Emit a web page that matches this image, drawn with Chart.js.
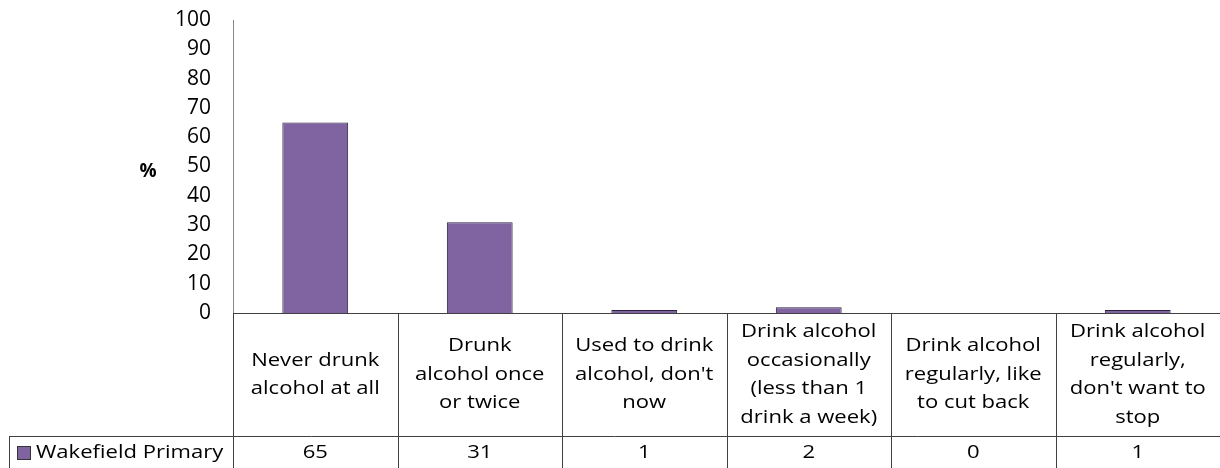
<!DOCTYPE html>
<html>
<head>
<meta charset="utf-8">
<script src="https://cdn.jsdelivr.net/npm/chart.js@4.4.0/dist/chart.umd.min.js"></script>
<style>
  html, body { margin: 0; padding: 0; background: #fff; }
</style>
</head>
<body>
<canvas id="chart" width="1220" height="468"></canvas>
<script>
// --- data ---
const categories = [
  ['Never drunk', 'alcohol at all'],
  ['Drunk', 'alcohol once', 'or twice'],
  ['Used to drink', "alcohol, don't", 'now'],
  ['Drink alcohol', 'occasionally', '(less than 1', 'drink a week)'],
  ['Drink alcohol', 'regularly, like', 'to cut back'],
  ['Drink alcohol', 'regularly,', "don't want to", 'stop']
];
const seriesName = 'Wakefield Primary';
const values = [65, 31, 1, 2, 0, 1];
const yMin = 0, yMax = 100, yStep = 10;
const yTitle = '%';

const FONT = '"Open Sans", Lato, sans-serif';
const BAR = '#8064A2';
const LINE = '#404040';
const STRETCH = 1.16; // reference text is wide

function wideText(ctx, t, x, y) {
  ctx.save();
  ctx.translate(x, y);
  ctx.scale(STRETCH, 1);
  ctx.fillText(t, 0, 0);
  ctx.restore();
}

// data table under the plot (category header row + value row)
const tablePlugin = {
  id: 'dataTable',
  afterDraw(chart) {
    const ctx = chart.ctx, a = chart.chartArea, xs = chart.scales.x, ys = chart.scales.y;
    const step = (a.right - a.left) / categories.length;
    const headTop = a.bottom, headBot = a.bottom + 123, rowBot = chart.height + 2;
    const legendLeft = 9;

    ctx.save();
    ctx.strokeStyle = LINE;
    ctx.lineWidth = 1;
    ctx.beginPath();
    ctx.moveTo(legendLeft, headBot + 0.5); ctx.lineTo(a.right, headBot + 0.5);
    ctx.moveTo(legendLeft + 0.5, headBot); ctx.lineTo(legendLeft + 0.5, rowBot);
    for (let i = 0; i < categories.length; i++) {
      const xx = Math.round(xs.getPixelForValue(i) - step / 2) + 0.5;
      ctx.moveTo(xx, headTop); ctx.lineTo(xx, rowBot);
    }
    ctx.stroke();

    ctx.fillStyle = '#000';
    ctx.font = '19px ' + FONT;
    ctx.textAlign = 'center';
    ctx.textBaseline = 'middle';
    const lh = 28.5;
    const ry = (headBot + chart.height) / 2 + 1;
    categories.forEach((lines, i) => {
      const cx = xs.getPixelForValue(i);
      const cy = (headTop + headBot) / 2;
      const y0 = cy - (lines.length - 1) * lh / 2;
      lines.forEach((t, j) => wideText(ctx, t, cx, y0 + j * lh));
      wideText(ctx, String(values[i]), cx, ry);
    });

    // legend key + series name
    ctx.fillStyle = BAR;
    ctx.fillRect(17, ry - 7, 14, 14);
    ctx.strokeStyle = '#333';
    ctx.strokeRect(17.5, ry - 6.5, 13, 13);
    ctx.fillStyle = '#000';
    ctx.textAlign = 'left';
    wideText(ctx, seriesName, 36, ry);

    // axis title, horizontal
    ctx.font = 'bold 19px ' + FONT;
    ctx.textAlign = 'center';
    ctx.fillText(yTitle, a.left - 85, (ys.top + ys.bottom) / 2 + 5);
    ctx.restore();
  }
};

new Chart(document.getElementById('chart'), {
  type: 'bar',
  data: {
    labels: categories,
    datasets: [{
      label: seriesName,
      data: values,
      backgroundColor: BAR,
      borderColor: '#2a2238',
      borderWidth: 1,
      barPercentage: 0.4,
      categoryPercentage: 1
    }]
  },
  options: {
    responsive: false,
    animation: false,
    layout: { padding: { top: 20, bottom: 155, left: 0, right: 0 } },
    plugins: { legend: { display: false }, tooltip: { enabled: false } },
    scales: {
      x: {
        grid: { display: false, drawTicks: false },
        border: { display: true, color: LINE },
        ticks: { display: false },
        afterFit(s) { s.height = 0; s.paddingLeft = 0; s.paddingRight = 0; }
      },
      y: {
        min: yMin, max: yMax,
        grid: { display: false, drawTicks: false },
        border: { display: true, color: '#888' },
        ticks: { stepSize: yStep, color: '#000', padding: 22, font: { family: FONT, size: 21 } },
        afterFit(s) { s.width = 233; s.paddingTop = 0; s.paddingBottom = 0; }
      }
    }
  },
  plugins: [tablePlugin]
});
</script>
</body>
</html>
